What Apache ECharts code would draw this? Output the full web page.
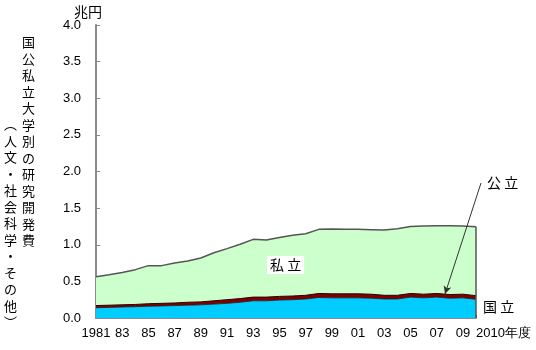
<!DOCTYPE html>
<html>
<head>
<meta charset="utf-8">
<script src="https://cdn.jsdelivr.net/npm/echarts@6/dist/echarts.min.js"></script>
<style>
  html, body { margin: 0; padding: 0; background: #ffffff; }
  #chart { width: 536px; height: 350px; }
</style>
</head>
<body>
<div id="chart"></div>
<script>
// 年度
const years = ['1981','1982','1983','1984','1985','1986','1987','1988','1989','1990',
               '1991','1992','1993','1994','1995','1996','1997','1998','1999','2000',
               '2001','2002','2003','2004','2005','2006','2007','2008','2009','2010'];

// 研究開発費（兆円）
const national = [0.14, 0.145, 0.15, 0.155, 0.16, 0.165, 0.17, 0.175, 0.18, 0.19,
                  0.20, 0.215, 0.235, 0.235, 0.245, 0.25, 0.26, 0.28, 0.275, 0.275,
                  0.275, 0.27, 0.26, 0.26, 0.285, 0.275, 0.285, 0.27, 0.275, 0.255];
const publicU  = [0.03, 0.03, 0.03, 0.03, 0.035, 0.035, 0.035, 0.04, 0.04, 0.045,
                  0.05, 0.05, 0.05, 0.05, 0.05, 0.05, 0.05, 0.055, 0.055, 0.055,
                  0.055, 0.055, 0.05, 0.05, 0.05, 0.05, 0.05, 0.05, 0.05, 0.05];
const privateU = [0.394, 0.415, 0.44, 0.475, 0.52, 0.515, 0.545, 0.563, 0.60, 0.655,
                  0.697, 0.741, 0.789, 0.78, 0.805, 0.829, 0.841, 0.875, 0.885, 0.88,
                  0.88, 0.881, 0.89, 0.909, 0.915, 0.93, 0.925, 0.94, 0.93, 0.942];

const yTicks = { min: 0, max: 4, interval: 0.5 };

const last = years.length - 1;
const total2010 = national[last] + publicU[last] + privateU[last];

const numFont = 'Liberation Sans, Arial, sans-serif';
const jpFont = '"Noto Sans CJK JP", sans-serif';

const chart = echarts.init(document.getElementById('chart'));
chart.setOption({
  backgroundColor: '#ffffff',
  animation: false,
  grid: { left: 96, right: 60, top: 25, bottom: 32, containLabel: false },
  xAxis: {
    type: 'category',
    data: years,
    boundaryGap: false,
    axisLine: { lineStyle: { color: '#8a8a8a', width: 2 } },
    axisTick: { inside: true, length: 3, interval: 0, lineStyle: { color: '#555', width: 1 } },
    axisLabel: {
      interval: (i) => i % 2 === 0 || i === last,
      formatter: (v, i) => i === 0 ? v : (i === last ? v + '年度' : v.slice(2)),
      alignMaxLabel: 'left',
      margin: 9,
      color: '#000',
      fontSize: 13,
      fontFamily: numFont
    },
    splitLine: { show: false }
  },
  yAxis: {
    type: 'value',
    min: yTicks.min,
    max: yTicks.max,
    interval: yTicks.interval,
    axisLine: { show: true, lineStyle: { color: '#8a8a8a', width: 2 } },
    axisTick: { show: true, inside: true, length: 4, lineStyle: { color: '#888' } },
    axisLabel: {
      formatter: (v) => v.toFixed(1),
      margin: 15,
      color: '#000',
      fontSize: 13,
      fontFamily: numFont
    },
    splitLine: { show: false }
  },
  series: [
    {
      name: '国立',
      type: 'line',
      stack: 'total',
      data: national,
      showSymbol: false,
      lineStyle: { color: '#1a1a1a', width: 0.8 },
      areaStyle: { color: '#00ccff', opacity: 1 },
      z: 3
    },
    {
      name: '公立',
      type: 'line',
      stack: 'total',
      data: publicU,
      showSymbol: false,
      lineStyle: { color: '#2a0000', width: 1 },
      areaStyle: { color: '#800000', opacity: 1 },
      z: 3,
      markLine: {
        silent: true,
        symbol: ['none', 'arrow'],
        symbolSize: [6, 8],
        label: { show: false },
        lineStyle: { color: '#333', width: 1, type: 'solid' },
        data: [[{ x: 481, y: 183 }, { x: 445, y: 294 }]]
      }
    },
    {
      name: '私立',
      type: 'line',
      stack: 'total',
      data: privateU,
      showSymbol: false,
      lineStyle: { color: '#555', width: 1.5 },
      areaStyle: { color: '#ccffcc', opacity: 1 },
      z: 2,
      markLine: {
        silent: true,
        symbol: 'none',
        label: { show: false },
        lineStyle: { color: '#555', width: 1.5, type: 'solid' },
        data: [[{ coord: [years[last], 0] }, { coord: [years[last], total2010] }]]
      }
    }
  ],
  graphic: [
    { type: 'text', left: 74, top: 5,
      style: { text: '兆円', font: '14px ' + jpFont, fill: '#000' } },
    { type: 'text', left: 22, top: 34,
      style: { text: '国公私立大学別の研究開発費'.split('').join('\n'),
               font: '13px ' + jpFont, lineHeight: 16.5, fill: '#000', align: 'left' } },
    { type: 'text', left: 4, top: 116,
      style: { text: '︵人文・社会科学・その他︶'.split('').join('\n'),
               font: '13px ' + jpFont, lineHeight: 16.5, fill: '#000', align: 'left' } },
    { type: 'text', left: 267, top: 256, z: 10,
      style: { text: '私 立', font: '14px ' + jpFont, fill: '#000',
               backgroundColor: '#ffffff', padding: [2, 3, 2, 3] } },
    { type: 'text', left: 487, top: 176, z: 10,
      style: { text: '公 立', font: '14px ' + jpFont, fill: '#000' } },
    { type: 'text', left: 483, top: 300, z: 10,
      style: { text: '国 立', font: '14px ' + jpFont, fill: '#000' } }
  ]
});
</script>
</body>
</html>
